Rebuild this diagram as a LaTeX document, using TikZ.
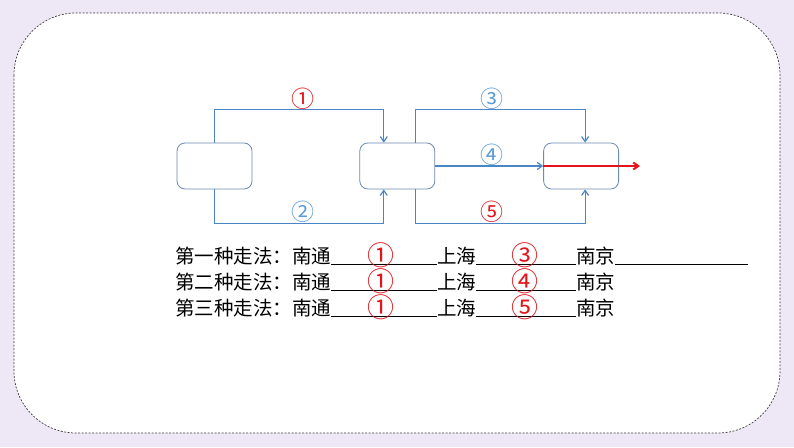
\documentclass[tikz,border=0pt]{standalone}
\usepackage{fontspec}
\setmainfont{Noto Sans CJK SC}
\usetikzlibrary{arrows.meta,positioning}
\definecolor{lilac}{HTML}{EEE8F6}
\definecolor{route}{HTML}{4A86C5}
\definecolor{rim}{HTML}{6D8AB0}
\definecolor{mark}{HTML}{E3141B}
\definecolor{pale}{HTML}{5B9BD5}
\begin{document}
\begin{tikzpicture}[x=1pt,y=-1pt,>={Straight Barb[length=5pt,width=7pt]},every node/.style={inner sep=0pt},place/.style={draw=rim,rounded corners=8pt,minimum width=75pt,minimum height=46pt,line width=0.8pt},way/.style={draw=route,line width=1.2pt},num/.style={font=\fontsize{23}{23}\selectfont},txt/.style={anchor=base west,font=\fontsize{19.5}{20}\selectfont},ans/.style={text=mark,font=\fontsize{27}{27}\selectfont},blank/.style={draw=black,line width=0.9pt}]
\fill[lilac] (0,0) rectangle (794,447);
\draw[fill=white,draw=black!75,dash pattern=on 2pt off 1.5pt,line width=0.7pt,rounded corners=62pt] (14,13) rectangle (780,433);
% three stations
\node[place] (nt) at (214.5,166) {};
\node[place,right=107pt of nt] (sh) {};
\node[place,right=108pt of sh] (nj) {};
\coordinate (out) at (640,166);
% routes
\draw[way,->] (nt.north) -- ++(0,-33) -| ([xshift=-13.5pt]sh.north);
\draw[way,->] (nt.south) -- ++(0,34) -| ([xshift=-13.5pt]sh.south);
\draw[way,->] ([xshift=18.5pt]sh.north) -- ++(0,-33) -| ([xshift=4pt]nj.north);
\draw[way,->] (sh.east) -- (nj.west);
\draw[way,->] ([xshift=18.5pt]sh.south) -- ++(0,34) -| ([xshift=4pt]nj.south);
\draw[draw=mark,line width=2pt,->] (nj.west) -- (out);
\node[num,text=mark] (r1) at (303,99) {①};
\node[num,text=pale] (r2) at (303,212) {②};
\node[num,text=pale] (r3) at (492,99) {③};
\node[num,text=pale] (r4) at (492,155) {④};
\node[num,text=mark] (r5) at (492,212) {⑤};
% answers
\node[txt] (w1) at (175,263) {第一种走法：南通};
\node[txt] (s1) at (437,263) {上海};
\node[txt] (j1) at (576,263) {南京};
\coordinate (e1) at (748,264);
\node[txt] (w2) at (175,289) {第二种走法：南通};
\node[txt] (s2) at (437,289) {上海};
\node[txt] (j2) at (576,289) {南京};
\node[txt] (w3) at (175,315) {第三种走法：南通};
\node[txt] (s3) at (437,315) {上海};
\node[txt] (j3) at (576,315) {南京};
\draw[blank] ([yshift=-1pt]w1.base east) -- ([yshift=-1pt]s1.base west);\draw[blank] ([yshift=-1pt]s1.base east) -- ([yshift=-1pt]j1.base west);\draw[blank] ([yshift=-1pt]j1.base east) -- (e1);
\draw[blank] ([yshift=-1pt]w2.base east) -- ([yshift=-1pt]s2.base west);\draw[blank] ([yshift=-1pt]s2.base east) -- ([yshift=-1pt]j2.base west);
\draw[blank] ([yshift=-1pt]w3.base east) -- ([yshift=-1pt]s3.base west);\draw[blank] ([yshift=-1pt]s3.base east) -- ([yshift=-1pt]j3.base west);
\node[ans] (a1) at (381,255) {①};
\node[ans] (b1) at (525,255) {③};
\node[ans] (a2) at (381,281) {①};
\node[ans] (b2) at (525,281) {④};
\node[ans] (a3) at (381,307) {①};
\node[ans] (b3) at (525,307) {⑤};
\end{tikzpicture}
\end{document}
